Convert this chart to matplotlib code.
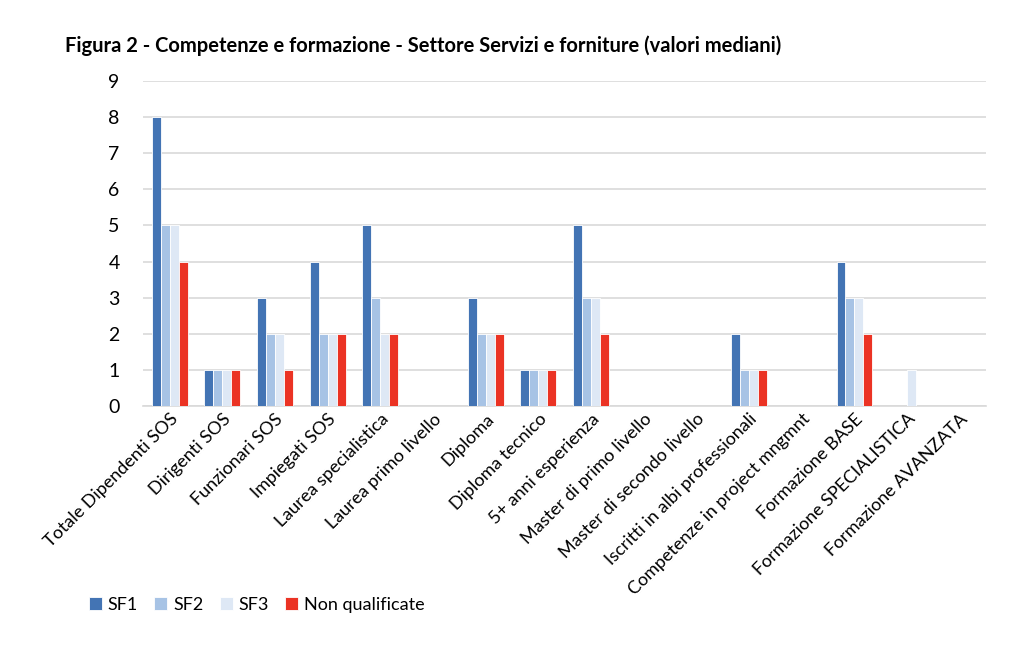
import numpy as np
import matplotlib.pyplot as plt

plt.rcParams['font.family'] = ['Lato', 'DejaVu Sans']

categories = ['Totale Dipendenti SOS', 'Dirigenti SOS', 'Funzionari SOS', 'Impiegati SOS',
              'Laurea specialistica', 'Laurea primo livello', 'Diploma', 'Diploma tecnico',
              '5+ anni esperienza', 'Master di primo livello', 'Master di secondo livello',
              'Iscritti in albi professionali', 'Competenze in project mngmnt',
              'Formazione BASE', 'Formazione SPECIALISTICA', 'Formazione AVANZATA']
sf1 = [8, 1, 3, 4, 5, 0, 3, 1, 5, 0, 0, 2, 0, 4, 0, 0]
sf2 = [5, 1, 2, 2, 3, 0, 2, 1, 3, 0, 0, 1, 0, 3, 0, 0]
sf3 = [5, 1, 2, 2, 2, 0, 2, 1, 3, 0, 0, 1, 0, 3, 1, 0]
nq = [4, 1, 1, 2, 2, 0, 2, 1, 2, 0, 0, 1, 0, 2, 0, 0]
series = [('SF1', sf1, '#4374B4'), ('SF2', sf2, '#A7C3E5'),
          ('SF3', sf3, '#DEE8F5'), ('Non qualificate', nq, '#EB3324')]

fig = plt.figure(figsize=(10.24, 6.58), dpi=100)
ax = fig.add_axes([0.14, 0.383, 0.823, 0.494])

x = np.arange(len(categories))
w = 0.17
for i, (name, vals, col) in enumerate(series):
    ax.bar(x + (i - 1.5) * w, vals, w, color=col, edgecolor='white', linewidth=0.6, label=name, zorder=3)

ax.set_xlim(-0.5, len(categories) - 0.5)
ax.set_ylim(0, 9)
ax.set_yticks(range(10))
ax.yaxis.grid(True, color='#D9D9D9', linewidth=1.2, zorder=0)
for s in ['top', 'right', 'left']:
    ax.spines[s].set_visible(False)
ax.spines['bottom'].set_color('#D9D9D9')
ax.spines['bottom'].set_linewidth(1.2)
ax.tick_params(axis='both', length=0, colors='black')
ax.tick_params(axis='y', pad=17, labelsize=14)
ax.set_xticks(x)
ax.set_xticklabels(categories, rotation=45, ha='right', rotation_mode='anchor', fontsize=13)

fig.text(0.063, 0.93, 'Figura 2 - Competenze e formazione - Settore Servizi e forniture (valori mediani)',
         fontsize=14.5, fontweight='bold', va='center')

fig.legend(loc='lower left', bbox_to_anchor=(0.071, 0.044), ncol=4, frameon=False,
           fontsize=13, handlelength=0.7, handleheight=0.7, handletextpad=0.35, columnspacing=0.9)

fig.savefig('out.png', dpi=100, facecolor='white')
